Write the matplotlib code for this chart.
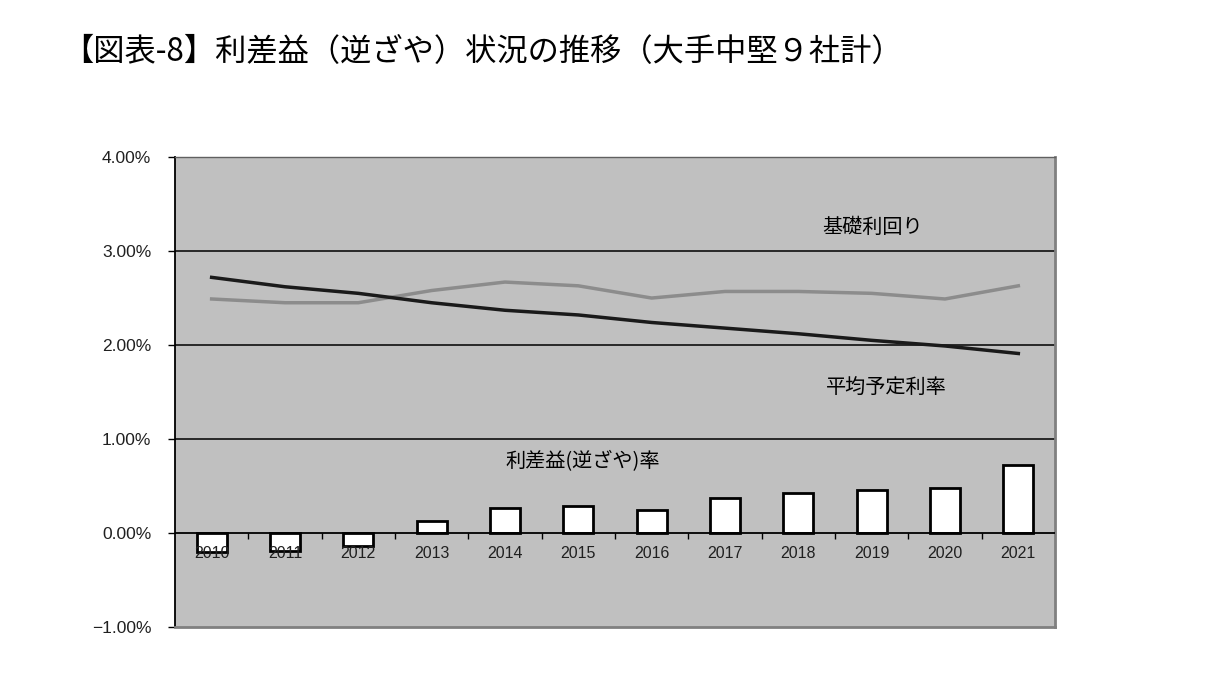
import matplotlib
matplotlib.use("Agg")
import matplotlib.pyplot as plt
import numpy as np

plt.rcParams['font.family'] = ['Noto Sans CJK JP', 'DejaVu Sans']

# ---------------- DATA ---------------- #
years = ["2010", "2011", "2012", "2013", "2014", "2015",
         "2016", "2017", "2018", "2019", "2020", "2021"]
kiso = [2.49, 2.45, 2.45, 2.58, 2.67, 2.63, 2.50, 2.57, 2.57, 2.55, 2.49, 2.63]      # 基礎利回り
yotei = [2.72, 2.62, 2.55, 2.45, 2.37, 2.32, 2.24, 2.18, 2.12, 2.05, 1.99, 1.91]     # 平均予定利率
risa = [-0.20, -0.19, -0.14, 0.13, 0.27, 0.29, 0.25, 0.37, 0.43, 0.46, 0.48, 0.72]   # 利差益(逆ざや)率
yticks = [-1, 0, 1, 2, 3, 4]
ylabels = ["\u22121.00%", "0.00%", "1.00%", "2.00%", "3.00%", "4.00%"]

title = "【図表-8】利差益（逆ざや）状況の推移（大手中堅９社計）"

# ---------------- DRAW ---------------- #
fig = plt.figure(figsize=(12.1, 6.84), dpi=100)
ax = fig.add_axes([0.1446, 0.0833, 0.7273, 0.6871])
ax.set_facecolor("#c0c0c0")

x = np.arange(len(years))

# gridlines
for v in [1, 2, 3]:
    ax.axhline(v, color="black", lw=1.1, zorder=1)
ax.axhline(0, color="black", lw=1.3, zorder=4)

# bars
ax.bar(x, risa, width=0.41, color="white", edgecolor="black", lw=2, zorder=2)

# tick marks on the zero line between categories
ax.vlines(x[:-1] + 0.5, -0.06, 0, color="black", lw=1, zorder=4)

# year labels just below zero
for i, y in enumerate(years):
    ax.text(i, -0.215, y, ha="center", va="center", fontsize=11.5,
            family=["Liberation Sans", "DejaVu Sans"], color="#202020", zorder=5)

# lines
ax.plot(x, kiso, color="#8c8c8c", lw=2.5, zorder=3)
ax.plot(x, yotei, color="#1a1a1a", lw=2.5, zorder=3)

# annotations
ax.text(8.32, 3.25, "基礎利回り", fontsize=14.5, va="center", ha="left")
ax.text(8.38, 1.55, "平均予定利率", fontsize=14.5, va="center", ha="left")
ax.text(4.0, 0.76, "利差益(逆ざや)率", fontsize=14.5, va="center", ha="left")

ax.set_xlim(-0.5, len(years) - 0.5)
ax.set_ylim(-1, 4)
ax.set_xticks([])
ax.set_yticks(yticks)
ax.set_yticklabels(ylabels, family=["Liberation Sans", "DejaVu Sans"], fontsize=12.5, color="#202020")
ax.tick_params(axis="y", length=5, width=1, pad=12)

ax.spines["left"].set_color("black")
ax.spines["left"].set_linewidth(1.3)
ax.spines["top"].set_color("#606060")
ax.spines["top"].set_linewidth(1)
ax.spines["right"].set_color("#808080")
ax.spines["right"].set_linewidth(2)
ax.spines["bottom"].set_color("#808080")
ax.spines["bottom"].set_linewidth(2)

fig.text(62 / 1210, 1 - 52 / 684, title, fontsize=22.5, ha="left", va="center")

fig.savefig("out.png", dpi=100)
